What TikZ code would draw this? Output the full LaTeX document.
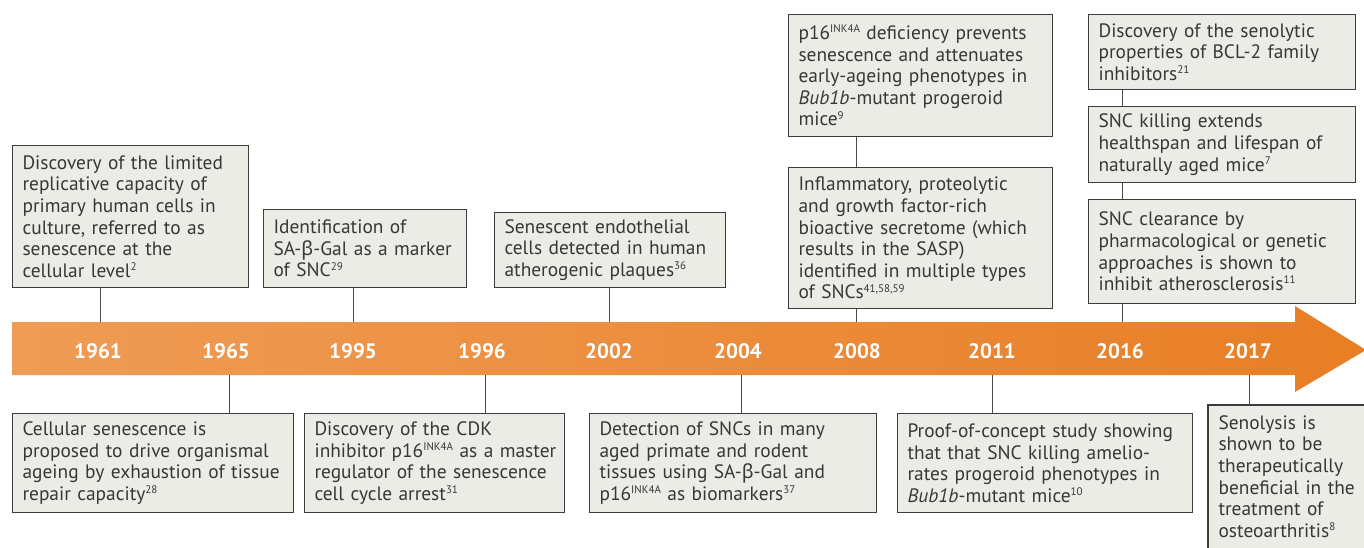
\documentclass[tikz,border=0pt]{standalone}
\usepackage{fontspec}
\setmainfont{PT Sans}
\newfontfamily\grk{Noto Sans}
\definecolor{boxfill}{RGB}{236,236,231}
\definecolor{boxline}{RGB}{60,60,60}
\definecolor{txt}{RGB}{55,55,55}
\definecolor{barL}{RGB}{239,156,86}
\definecolor{barR}{RGB}{232,126,36}
\definecolor{conn}{RGB}{75,75,75}
\newcommand{\bet}{{\grk β}}
\newcommand{\spx}[1]{\raisebox{6.8pt}{\fontsize{11}{11}\selectfont #1}}
\begin{document}
\begin{tikzpicture}[x=1pt,y=-1pt,
  evbox/.style={draw=boxline, fill=boxfill, line width=1.1pt, text=txt, align=left,
    inner xsep=10pt, inner ysep=0pt, anchor=north west,
    font=\fontsize{19.4}{21.6}\selectfont},
  year/.style={text=white, font=\bfseries\fontsize{21}{22}\selectfont, inner sep=0pt},
  conline/.style={draw=conn, line width=1pt}]
\useasboundingbox (0,0) rectangle (1364,547);
\clip (0,0) rectangle (1364,547);
\fill[white] (-5,-5) rectangle (1370,552);
% timeline arrow
\shade[left color=barL, right color=barR]
  (12,322) -- (1295,322) -- (1295,306) -- (1366,350) -- (1295,392) -- (1295,375) -- (12,375) -- cycle;
% years
\node[year] (y1961) at (98,351) {1961};
\node[year] (y1965) at (226,351) {1965};
\node[year] (y1995) at (353,351) {1995};
\node[year] (y1996) at (482,351) {1996};
\node[year] (y2002) at (609,351) {2002};
\node[year] (y2004) at (738,351) {2004};
\node[year] (y2008) at (857,351) {2008};
\node[year] (y2011) at (992,351) {2011};
\node[year] (y2016) at (1120,351) {2016};
\node[year] (y2017) at (1248,351) {2017};
% connector anchor points on the bar
\coordinate (c1961) at (100,322);
\coordinate (c1995) at (353,322);
\coordinate (c2002) at (609,322);
\coordinate (c2008) at (856,322);
\coordinate (c2016) at (1122,322);
\coordinate (d1965) at (229,375);
\coordinate (d1996) at (485,375);
\coordinate (d2004) at (741,375);
\coordinate (d2011) at (992,375);
\coordinate (d2017) at (1249,375);
% upper boxes
\node[evbox, text width=216pt, minimum height=142pt] (b1961) at (12,145)
 {Discovery of the limited\\replicative capacity of\\primary human cells in\\culture, referred to as\\senescence at the\\cellular level\spx{2}};
\node[evbox, text width=183pt, minimum height=78pt] (b1995) at (263,209)
 {Identification of\\\mbox{SA-\bet-Gal as a marker}\\of SNC\spx{29}};
\node[evbox, text width=211pt, minimum height=75pt] (b2002) at (494,212)
 {Senescent endothelial\\cells detected in human\\atherogenic plaques\spx{36}};
\node[evbox, text width=244pt, minimum height=122pt] (b2008a) at (788,14)
 {p16\spx{INK4A} deficiency prevents\\senescence and attenuates\\early-ageing phenotypes in\\\textit{Bub1b}-mutant progeroid\\mice\spx{9}};
\node[evbox, text width=244pt, minimum height=141pt] (b2008b) at (788,167)
 {Inflammatory, proteolytic\\and growth factor-rich\\bioactive secretome (which\\results in the SASP)\\identified in multiple types\\of SNCs\spx{41,58,59}};
\node[evbox, text width=247pt, minimum height=75pt] (b2016a) at (1088,14)
 {Discovery of the senolytic\\properties of BCL-2 family\\inhibitors\spx{21}};
\node[evbox, text width=247pt, minimum height=76pt] (b2016b) at (1088,106)
 {SNC killing extends\\healthspan and lifespan of\\naturally aged mice\spx{7}};
\node[evbox, text width=247pt, minimum height=104pt] (b2016c) at (1088,199)
 {SNC clearance by\\pharmacological or genetic\\approaches is shown to\\inhibit atherosclerosis\spx{11}};
% lower boxes
\node[evbox, text width=261pt, minimum height=99pt] (b1965) at (12,413)
 {Cellular senescence is\\proposed to drive organismal\\ageing by exhaustion of tissue\\repair capacity\spx{28}};
\node[evbox, text width=240pt, minimum height=99pt] (b1996) at (304,413)
 {Discovery of the CDK\\\mbox{inhibitor p16\spx{INK4A} as a master}\\regulator of the senescence\\cell cycle arrest\spx{31}};
\node[evbox, text width=267pt, minimum height=99pt] (b2004) at (589,413)
 {Detection of SNCs in many\\aged primate and rodent\\tissues using SA-\bet-Gal and\\\mbox{p16\spx{INK4A} as biomarkers\spx{37}}};
\node[evbox, text width=275pt, minimum height=99pt] (b2011) at (897,413)
 {\mbox{Proof-of-concept study showing}\\that that SNC killing amelio-\\rates progeroid phenotypes in\\\textit{Bub1b}-mutant mice\spx{10}};
\node[evbox, draw=none, text width=220pt, inner ysep=10pt] (b2017) at (1208,405)
 {Senolysis is\\shown to be\\therapeutically\\beneficial in the\\treatment of\\osteoarthritis\spx{8}};
\draw[draw=boxline, line width=1.1pt] (b2017.south west) -- (b2017.north west) -- (b2017.north east);
% connectors
\draw[conline] (b1961.south -| c1961) -- (c1961);
\draw[conline] (b1995.south -| c1995) -- (c1995);
\draw[conline] (b2002.south -| c2002) -- (c2002);
\draw[conline] (b2008a.south -| c2008) -- (b2008b.north -| c2008);
\draw[conline] (b2008b.south -| c2008) -- (c2008);
\draw[conline] (b2016a.south -| c2016) -- (b2016b.north -| c2016);
\draw[conline] (b2016b.south -| c2016) -- (b2016c.north -| c2016);
\draw[conline] (b2016c.south -| c2016) -- (c2016);
\draw[conline] (d1965) -- (b1965.north -| d1965);
\draw[conline] (d1996) -- (b1996.north -| d1996);
\draw[conline] (d2004) -- (b2004.north -| d2004);
\draw[conline] (d2011) -- (b2011.north -| d2011);
\draw[conline] (d2017) -- (b2017.north -| d2017);
\end{tikzpicture}
\end{document}
